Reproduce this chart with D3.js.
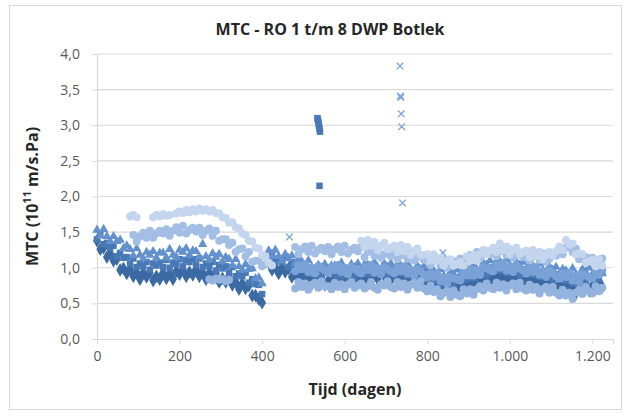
<!DOCTYPE html>
<html>
<head>
<meta charset="utf-8">
<script src="https://cdn.jsdelivr.net/npm/d3@7"></script>
<style>
  body { margin: 0; background: #fff; }
  text { font-family: "Open Sans", "Liberation Sans", sans-serif; }
</style>
</head>
<body>
<div id="chart"></div>
<script>
// logged values, one reading every `step` days, written as hundredths of 1e-11 m/s.Pa
const step = 8;

const xTicks = [0, 200, 400, 600, 800, 1000, 1200];
const yTicks = [0, 0.5, 1, 1.5, 2, 2.5, 3, 3.5, 4];

const ro1Early = "138 126 128 115 120 110 112 97 99 92 98 88 93 84 93 87 93 82 88 84 93 85 92 84 95 91 98 88 94 90 97 88 93 84 93 87 92 80 85 80 86 76 80 70 78 71 75 61 61 56 51";
const ro1Late = "107 97 101 92 100 94 99 87 91 86 92 82 86 77 85 79 87 76 82 79 87 78 84 77 87 82 89 79 85 81 90 84 91 84 94 89 95 83 88 83 91 81 87 79 89 83 90 77 81 76 82 72 76 67 75 69 77 67 75 72 82 74 81 74 85 82 90 80 87 83 92 83 89 80 90 84 90 79 84 80 87 77 83 74 83 77 83 71 76 71 78 68 73 64 74 70 78 68 75 72 81 73";

const ro2Early = "140 147 133 135 128 131 116 121 114 115 106 113 101 106 102 108 97 106 103 107 101 111 100 107 105 112 102 111 108 112 104 113 101 106 102 108 96 104 99 102 93 101 88 92 88 93 79 84 77 76 63";
const ro2Late = "114 121 109 113 108 114 101 108 104 106 97 105 92 96 92 97 87 96 93 97 90 99 88 94 91 98 87 97 94 98 91 102 92 99 96 103 91 99 95 99 92 101 89 95 91 98 86 94 89 92 83 91 78 83 78 85 75 86 84 90 84 95 85 93 91 100 90 100 98 103 96 105 93 99 95 101 90 98 94 98 90 98 87 92 88 95 83 91 87 90 82 90 78 83 80 88 78 88 86 91 84 94";
const ro2OutDays = [534, 535, 536, 537, 538, 539, 540, 539];
const ro2OutVals = [3.10, 3.08, 3.05, 3.02, 2.99, 2.95, 2.91, 2.15];

const ro3Early = "153 145 154 144 137 144 137 139 127 131 126 117 127 118 113 122 118 123 114 121 121 114 126 118 115 125 122 127 118 124 123 115 133 116 111 120 115 119 109 115 112 103 112 102 97 105 98 99 85 86 78";
const ro3Late = "124 116 125 116 110 119 113 117 106 112 109 101 110 101 95 104 100 105 96 103 103 96 107 99 95 105 101 106 98 105 104 97 108 100 96 106 101 106 97 105 103 96 106 98 93 103 98 102 92 98 96 88 98 89 84 94 91 97 90 98 99 93 105 98 96 107 104 110 102 110 109 102 112 104 99 108 104 108 98 105 103 95 106 97 92 102 97 101 91 98 96 89 99 91 87 98 94 100 91 99 98 92";

const ro4Days = [466, 734, 735, 736, 737, 738, 740, 838];
const ro4Vals = [1.43, 3.83, 3.41, 3.39, 3.16, 2.98, 1.91, 1.21];

const ro5Late = "95 103 98 105 94 100 92 102 99 96 93 101 97 104 94 100 91 101 98 95 92 101 97 104 93 99 91 101 98 95 92 100 95 102 92 97 89 98 95 90 86 92 87 92 81 86 77 87 85 84 82 92 89 98 89 97 90 101 99 97 95 104 100 107 96 102 94 103 99 96 92 99 94 101 90 95 87 96 92 88 85 92 87 93 82 88 80 91 89 87 85 94 90 98";

const ro6Early = "146 137 144 149 142 152 142 148 152 148 154 145 152 157 149 159 148 153 156 151 156 146 152 155 145 152 138 140 140 132 135 122 126 127 116 122 108 110 110 102 105";
const ro6Late = "129 119 126 130 122 131 120 125 128 123 129 119 126 130 122 131 120 125 128 123 129 115 122 125 117 126 114 119 122 116 122 112 118 122 113 122 110 115 117 111 116 104 110 113 104 112 100 105 109 105 113 104 113 118 112 122 113 119 123 119 126 116 123 126 118 126 114 118 121 115 120 110 116 120 111 120 108 113 119 117 126 119 128 133 122 127 112 113 115 109 114 104 110 113";

const ro7A = "172 174 171";
const ro7B = "171 174 172 175 173 174";
const ro7C = "176 179 177 181 178 182 179 183 180 182 179 181 177 176 171 170 163 164 157 155 148 146 138 137 128 127 118 116 107 103";
const ro7Late = "138 129 139 131 136 125 131 135 126 128 131 122 132 123 129 118 124 127 118 118 119 110 119 110 114 103 109 112 103 105 108 103 116 110 118 110 119 125 119 124 128 122 134 125 130 119 125 128 119 122 124 115 125 117 122 112 118 122 117 123 130 125 139 133 134 119 120 119 107 109 111 102 112 103";

const ro8Early = "84 82 85 83 84 81 83";
const ro8Late = "71 80 73 78 69 76 79 72 81 74 74 70 79 73 77 70 76 80 72 75 78 71 74 80 72 69 77 75 81 73 71 80 73 78 69 76 79 72 81 71 67 75 66 70 60 65 67 59 68 62 60 70 64 70 62 70 74 68 78 72 70 79 72 77 68 75 78 70 79 71 68 76 69 73 64 70 73 65 73 65 61 69 61 65 56 65 69 63 73 67 64 74 67 72";

const fmt = d3.formatLocale({ decimal: ",", thousands: ".", grouping: [3], currency: ["", ""] });

function run(startDay, str) {
    return str.trim().split(/\s+/).map((t, i) => ({ day: startDay + i * step, v: +t / 100 }));
}
function pairs(days, vals) {
    return days.map((d, i) => ({ day: d, v: vals[i] }));
}

const series = [
    { name: "RO 1", color: "#3b69a2", shape: "diamond", pts: run(0, ro1Early).concat(run(416, ro1Late)) },
    { name: "RO 2", color: "#4879b6", shape: "square", pts: run(0, ro2Early).concat(run(416, ro2Late), pairs(ro2OutDays, ro2OutVals)) },
    { name: "RO 3", color: "#6391cd", shape: "triangle", pts: run(0, ro3Early).concat(run(416, ro3Late)) },
    { name: "RO 4", color: "#7ca3d9", shape: "x", pts: pairs(ro4Days, ro4Vals) },
    { name: "RO 5", color: "#7aa2d7", shape: "circle", pts: run(480, ro5Late) },
    { name: "RO 6", color: "#a3bee4", shape: "circle", pts: run(88, ro6Early).concat(run(480, ro6Late)) },
    { name: "RO 7", color: "#c4d5ee", shape: "circle", pts: run(80, ro7A).concat(run(136, ro7B), run(192, ro7C), run(640, ro7Late)) },
    { name: "RO 8", color: "#94b4df", shape: "circle", pts: run(272, ro8Early).concat(run(480, ro8Late)) }
];

const width = 630, height = 416;
const margin = { left: 97, right: 17, top: 54, bottom: 77 };

const svg = d3.select("#chart").append("svg")
    .attr("width", width)
    .attr("height", height);

svg.append("rect")
    .attr("x", 9.5).attr("y", 5.5)
    .attr("width", 612).attr("height", 404)
    .attr("fill", "#fff")
    .attr("stroke", "#d9d9d9");

const x = d3.scaleLinear().domain([0, 1250]).range([margin.left, width - margin.right]);
const y = d3.scaleLinear().domain([0, 4]).range([height - margin.bottom, margin.top]);

// gridlines
svg.append("g")
    .selectAll("line")
    .data(yTicks.slice(1))
    .enter().append("line")
    .attr("x1", x(0)).attr("x2", x(1250))
    .attr("y1", d => y(d)).attr("y2", d => y(d))
    .attr("stroke", "#d9d9d9")
    .attr("stroke-width", 1.2);

const xAxis = svg.append("g")
    .attr("transform", `translate(0,${y(0)})`)
    .call(d3.axisBottom(x).tickValues(xTicks).tickSize(5).tickPadding(7).tickFormat(fmt.format(",")));

const yAxis = svg.append("g")
    .attr("transform", `translate(${x(0)},0)`)
    .call(d3.axisLeft(y).tickValues(yTicks).tickSize(5).tickPadding(12).tickFormat(fmt.format(",.1f")));

[xAxis, yAxis].forEach(a => {
    a.select(".domain").attr("stroke", "#d9d9d9").attr("stroke-width", 1.2);
    a.selectAll(".tick line").attr("stroke", "#d9d9d9");
    a.selectAll(".tick text")
        .attr("fill", "#595959")
        .style("font-size", "14px")
        .style("font-family", "'Open Sans', sans-serif");
});

// markers
const shapes = {
    diamond: d3.symbol().type(d3.symbolDiamond).size(54),
    square: d3.symbol().type(d3.symbolSquare).size(42),
    triangle: d3.symbol().type(d3.symbolTriangle).size(38),
    circle: d3.symbol().type(d3.symbolCircle).size(50),
    x: d3.symbol().type(d3.symbolTimes || d3.symbolX || d3.symbolCross).size(30)
};

const plot = svg.append("g");

series.forEach(s => {
    const stroked = s.shape === "x";
    plot.append("g")
        .attr("class", "series")
        .selectAll("path")
        .data(s.pts)
        .enter().append("path")
        .attr("transform", d => `translate(${x(d.day)},${y(d.v)})`)
        .attr("d", shapes[s.shape]())
        .attr("fill", stroked ? "none" : s.color)
        .attr("stroke", stroked ? s.color : "none")
        .attr("stroke-width", stroked ? 1.3 : 0);
});

// titles
svg.append("text")
    .attr("x", 330).attr("y", 35)
    .attr("text-anchor", "middle")
    .attr("fill", "#262626")
    .style("font-size", "16px")
    .style("font-weight", "bold")
    .text("MTC - RO 1 t/m 8 DWP Botlek");

svg.append("text")
    .attr("x", 355).attr("y", 395)
    .attr("text-anchor", "middle")
    .attr("fill", "#262626")
    .style("font-size", "16px")
    .style("font-weight", "bold")
    .text("Tijd (dagen)");

const yTitle = svg.append("text")
    .attr("transform", `translate(38,${y(2)}) rotate(-90)`)
    .attr("text-anchor", "middle")
    .attr("fill", "#262626")
    .style("font-size", "16px")
    .style("font-weight", "bold");
yTitle.append("tspan").text("MTC (10");
yTitle.append("tspan").attr("dy", -7).style("font-size", "11px").text("11");
yTitle.append("tspan").attr("dy", 7).text(" m/s.Pa)");
</script>
</body>
</html>
